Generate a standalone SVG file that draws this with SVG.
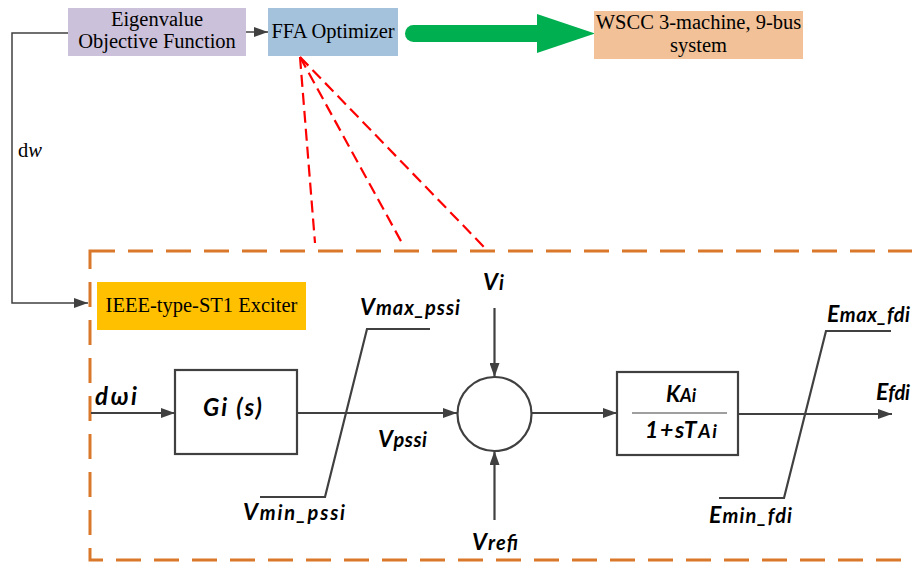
<svg xmlns="http://www.w3.org/2000/svg" width="912" height="562" viewBox="0 0 912 562">
  <defs>
    <marker id="arrow" viewBox="0 0 14 10" refX="14" refY="5" markerWidth="14" markerHeight="10" markerUnits="userSpaceOnUse" orient="auto">
      <path d="M0,0 L14,5 L0,10 Z" fill="#404040"/>
    </marker>
    <style>
      .serif { font-family: "Liberation Serif", "Times New Roman", serif; font-size: 20.5px; fill: #000; }
      .lbl { font-family: Lato, "Open Sans", sans-serif; font-weight: bold; font-style: italic; fill: #000; }
      .big { font-size: 23px; }
      .sub { font-size: 20px; }
      .wire { fill: none; stroke: #404040; stroke-width: 2.2; }
      .thin { fill: none; stroke: #404040; stroke-width: 1.5; }
      .block { fill: #fff; stroke: #404040; stroke-width: 2.2; }
      .red { fill: none; stroke: #ff0000; stroke-width: 2.2; stroke-dasharray: 12 6; }
      .frame { fill: none; stroke: #d9782a; stroke-width: 3; stroke-dasharray: 25 13; }
    </style>
  </defs>

  <!-- exciter frame -->
  <rect class="frame" x="90" y="251" width="840" height="309"/>

  <!-- connectors -->
  <g id="connectors">
    <line class="thin" x1="246" y1="32" x2="268" y2="32" marker-end="url(#arrow)"/>
    <polyline class="thin" points="68,33 12,33 12,303 88,303" marker-end="url(#arrow)"/>
    <!-- optimizer links -->
    <line class="red" x1="300" y1="57" x2="315" y2="243"/>
    <line class="red" x1="300" y1="57" x2="402" y2="243"/>
    <line class="red" x1="300" y1="57" x2="484" y2="247"/>
    <!-- signal path -->
    <line class="wire" x1="91" y1="413" x2="175" y2="413" marker-end="url(#arrow)"/>
    <line class="wire" x1="297" y1="413" x2="457" y2="413" marker-end="url(#arrow)"/>
    <line class="wire" x1="494.5" y1="308" x2="494.5" y2="377" marker-end="url(#arrow)"/>
    <line class="wire" x1="494.5" y1="520" x2="494.5" y2="451" marker-end="url(#arrow)"/>
    <line class="wire" x1="532" y1="413" x2="617" y2="413" marker-end="url(#arrow)"/>
    <line class="wire" x1="738" y1="414" x2="892" y2="414" marker-end="url(#arrow)"/>
    <!-- limiters -->
    <polyline class="wire" points="430,329 367,329 325,497 260,497"/>
    <polyline class="wire" points="891,331 826,331 784,498 719,498"/>
    <!-- green transfer arrow -->
    <g fill="#00b050">
      <rect x="405" y="25" width="140" height="17" rx="8.5"/>
      <polygon points="537,14 595,33.5 537,53"/>
    </g>
  </g>

  <g id="eigenvalue">
    <rect x="68" y="8" width="178" height="48" fill="#ccc1da"/>
    <text class="serif" text-anchor="middle" x="157" y="26">Eigenvalue</text>
    <text class="serif" text-anchor="middle" x="157" y="48">Objective Function</text>
  </g>

  <g id="ffa">
    <rect x="268" y="8" width="130" height="48" fill="#a5c2dd"/>
    <text class="serif" text-anchor="middle" x="333" y="38">FFA Optimizer</text>
  </g>

  <g id="wscc">
    <rect x="594" y="11" width="209" height="48" fill="#f2c197"/>
    <text class="serif" text-anchor="middle" x="698.5" y="29">WSCC 3-machine, 9-bus</text>
    <text class="serif" text-anchor="middle" x="698.5" y="52">system</text>
  </g>

  <g id="dw-label">
    <text class="serif" x="18" y="157">d<tspan font-style="italic">w</tspan></text>
  </g>

  <g id="exciter-title">
    <rect x="97" y="282" width="209" height="48" fill="#ffc000"/>
    <text class="serif" text-anchor="middle" x="201.5" y="312">IEEE-type-ST1 Exciter</text>
  </g>

  <g id="gi">
    <rect class="block" x="175" y="370" width="122" height="84"/>
    <text class="lbl" font-size="24" x="203" y="416" textLength="59">Gi (s)</text>
  </g>

  <g id="sum">
    <circle class="block" cx="494.5" cy="414" r="37"/>
  </g>

  <g id="ka">
    <rect class="block" x="617" y="372" width="121" height="83"/>
    <line x1="632" y1="413" x2="727" y2="413" stroke="#404040" stroke-width="1.2"/>
    <text class="lbl" x="681" y="402" text-anchor="middle"><tspan font-size="22">K</tspan><tspan font-size="18">Ai</tspan></text>
    <text class="lbl" x="645" y="438" textLength="72"><tspan font-size="23">1+sT</tspan><tspan font-size="19">Ai</tspan></text>
  </g>

  <!-- signal labels -->
  <g id="labels">
    <text class="lbl" font-size="24" x="95" y="405" textLength="42">dωi</text>
    <text class="lbl" x="360" y="315" textLength="100"><tspan class="big">V</tspan><tspan class="sub">max_pssi</tspan></text>
    <text class="lbl" x="378" y="447" textLength="49"><tspan class="big">V</tspan><tspan class="sub">pssi</tspan></text>
    <text class="lbl" x="243" y="520" textLength="102"><tspan class="big">V</tspan><tspan class="sub">min_pssi</tspan></text>
    <text class="lbl" x="483" y="290" textLength="21"><tspan class="big">V</tspan><tspan class="sub">i</tspan></text>
    <text class="lbl" x="472" y="550" textLength="46"><tspan class="big">V</tspan><tspan class="sub">refi</tspan></text>
    <text class="lbl" x="827" y="322" textLength="83"><tspan class="big">E</tspan><tspan class="sub">max_fdi</tspan></text>
    <text class="lbl" x="876" y="400" textLength="34"><tspan class="big">E</tspan><tspan class="sub">fdi</tspan></text>
    <text class="lbl" x="709" y="523" textLength="83"><tspan class="big">E</tspan><tspan class="sub">min_fdi</tspan></text>
  </g>
</svg>
